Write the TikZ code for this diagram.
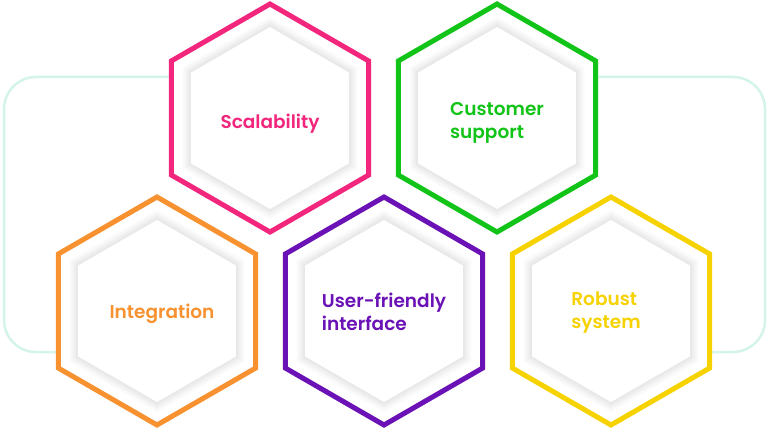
\documentclass[tikz,border=0pt]{standalone}
\usepackage{fontspec}
\setmainfont{Poppins}[UprightFont={* SemiBold}]
\usetikzlibrary{positioning}

\definecolor{hexpink}{HTML}{F2267C}
\definecolor{hexgreen}{HTML}{12C418}
\definecolor{hexorange}{HTML}{F8912F}
\definecolor{hexpurple}{HTML}{6A12B5}
\definecolor{hexyellow}{HTML}{F5D200}
\definecolor{frameline}{HTML}{D4F3EA}

\tikzset{
  hexcell/.pic={
    % white body hides the frame line
    \fill[white] (90:117) \foreach \a in {150,210,270,330,30}{-- (\a:117)} -- cycle;
    % soft grey glow round the inner hexagon
    \foreach \r/\g in {101/1.5,99/3,97/5,95/7,93/9}
      \fill[black!\g] (90:\r) \foreach \a in {150,210,270,330,30}{-- (\a:\r)} -- cycle;
    \fill[white] (90:91) \foreach \a in {150,210,270,330,30}{-- (\a:91)} -- cycle;
    \draw[#1,line width=5pt,line join=miter] (90:114) \foreach \a in {150,210,270,330,30}{-- (\a:114)} -- cycle;
  },
  celltext/.style={font=\fontsize{18.5}{23}\selectfont,align=left}
}

\begin{document}
\begin{tikzpicture}[x=1pt,y=-1pt]
  \useasboundingbox (0,0) rectangle (768,430);

  % frame behind the cells
  \draw[frameline,line width=2.5pt,rounded corners=32] (200,77) -- (4,77) -- (4,352) -- (90,352);
  \draw[frameline,line width=2.5pt,rounded corners=32] (560,77) -- (765,77) -- (765,352) -- (680,352);

  \foreach \nm/\cx/\cy/\col in {scal/270/118/hexpink,cust/497/118/hexgreen,
      integ/157/311/hexorange,user/384/311/hexpurple,rob/611/311/hexyellow}
    \pic (\nm) at (\cx,\cy) {hexcell=\col};

  \node[celltext,text=hexpink] (scaltxt) at (270,124) {Scalability};
  \node[celltext,text=hexgreen] (custtxt) at (497,123) {Customer\\support};
  \node[celltext,text=hexorange] (integtxt) at (162,314) {Integration};
  \node[celltext,text=hexpurple] (usertxt) at (384,312) {User-friendly\\interface};
  \node[celltext,text=hexyellow] (robtxt) at (606,313) {Robust\\system};
\end{tikzpicture}
\end{document}
